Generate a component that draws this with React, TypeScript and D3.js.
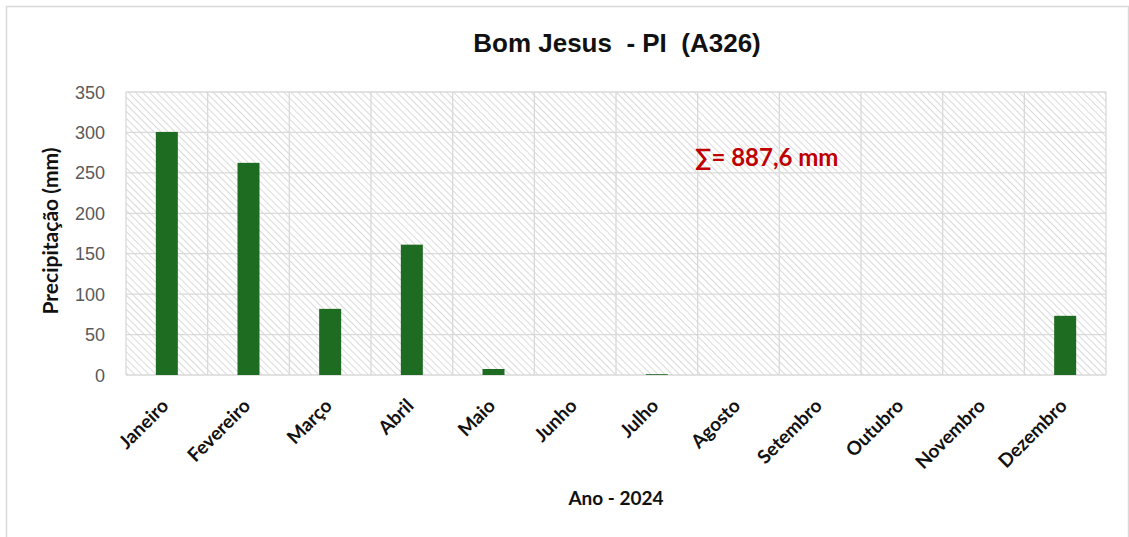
import React from "react";
import * as d3 from "d3";

const months = ["Janeiro", "Fevereiro", "Março", "Abril", "Maio", "Junho", "Julho", "Agosto", "Setembro", "Outubro", "Novembro", "Dezembro"];
const precip = [300.6, 262.4, 81.8, 161.2, 7.4, 0, 1.0, 0, 0, 0, 0, 73.2];
const yTicks = [0, 50, 100, 150, 200, 250, 300, 350];
const title = "Bom Jesus  - PI  (A326)";
const xTitle = "Ano - 2024";
const yTitle = "Precipitação (mm)";
const totalLabel = "∑= 887,6 mm";

const W = 1129, H = 537;
const plot = { left: 126, right: 1106, top: 92, bottom: 375 };

export default function App() {
  const x = d3.scaleBand<string>().domain(months).range([plot.left, plot.right]).paddingInner(0).paddingOuter(0);
  const y = d3.scaleLinear().domain([0, 350]).range([plot.bottom, plot.top]);
  const barW = 22;
  return (
    <svg width={W} height={H} style={{ position: "absolute", left: 0, top: 0, background: "#fff" }}>
      <defs>
        <pattern id="hatch" patternUnits="userSpaceOnUse" width={5} height={5} patternTransform="rotate(-45)">
          <rect width={5} height={5} fill="#ffffff" />
          <line x1={0} y1={0} x2={0} y2={5} stroke="#dadada" strokeWidth={2} />
        </pattern>
      </defs>
      <rect x={6.5} y={6.5} width={W - 7} height={H} fill="#fff" stroke="#d9d9d9" strokeWidth={1.5} />
      <text x={617} y={52} textAnchor="middle" fontFamily="Liberation Sans, Arial, sans-serif" fontWeight="bold" fontSize={26} fill="#111" style={{ whiteSpace: "pre" }}>{title}</text>
      <rect x={plot.left} y={plot.top} width={plot.right - plot.left} height={plot.bottom - plot.top} fill="url(#hatch)" />
      {yTicks.map((t) => (
        <line key={"h" + t} x1={plot.left} x2={plot.right} y1={y(t)} y2={y(t)} stroke="#d9d9d9" strokeWidth={1.3} />
      ))}
      {months.map((m) => (
        <line key={"v" + m} x1={x(m)!} x2={x(m)!} y1={plot.top} y2={plot.bottom} stroke="#d9d9d9" strokeWidth={1.3} />
      ))}
      <line x1={plot.right} x2={plot.right} y1={plot.top} y2={plot.bottom} stroke="#d9d9d9" strokeWidth={1.3} />
      {yTicks.map((t) => (
        <text key={"yt" + t} x={105} y={y(t) + 6.5} textAnchor="end" fontFamily="Liberation Sans, Arial, sans-serif" fontSize={18} fill="#595959">{t}</text>
      ))}
      {months.map((m, i) => {
        const cx = x(m)! + x.bandwidth() / 2;
        const v = precip[i];
        if (v <= 0) return null;
        return <rect key={"b" + m} x={cx - barW / 2} y={y(v)} width={barW} height={plot.bottom - y(v)} fill="#1e6b22" />;
      })}
      {months.map((m) => {
        const cx = x(m)! + x.bandwidth() / 2 + 3;
        return (
          <text key={"xl" + m} transform={`translate(${cx},${407}) rotate(-45)`} textAnchor="end" fontFamily="Lato, Open Sans, sans-serif" fontWeight="bold" fontSize={19} fill="#111">{m}</text>
        );
      })}
      <text x={616} y={505} textAnchor="middle" fontFamily="Lato, Open Sans, sans-serif" fontWeight="bold" fontSize={19} fill="#111">{xTitle}</text>
      <text transform={`translate(58,${231}) rotate(-90)`} textAnchor="middle" fontFamily="Lato, Open Sans, sans-serif" fontWeight="bold" fontSize={21} fill="#111">{yTitle}</text>
      <text x={695} y={166} fontFamily="Lato, Open Sans, sans-serif" fontWeight="bold" fontSize={24} fill="#c00000">{totalLabel}</text>
    </svg>
  );
}
